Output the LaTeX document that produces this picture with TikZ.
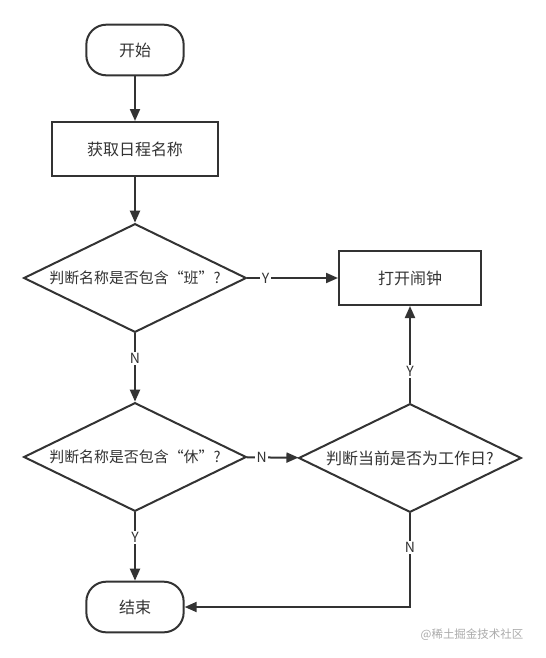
\documentclass[tikz,border=0pt]{standalone}
\usepackage{fontspec}
\setmainfont{Noto Sans CJK SC}
\usetikzlibrary{shapes.geometric,arrows.meta}
\definecolor{ink}{HTML}{333333}
\definecolor{mark}{HTML}{AAAAAA}

\begin{document}
\begin{tikzpicture}[x=0.75pt,y=-0.75pt,
  every node/.style={text=ink,font=\fontsize{12pt}{14pt}\selectfont},
  small/.style={font=\fontsize{11.2pt}{13pt}\selectfont},
  terminal/.style={draw=ink,line width=1.5pt,rounded corners=15pt,minimum width=73pt,minimum height=38pt},
  process/.style={draw=ink,line width=1.5pt,minimum height=40.5pt},
  decision/.style={draw=ink,line width=1.5pt,diamond,shape aspect=2.05,inner sep=0pt,minimum width=167pt,minimum height=81.5pt},
  flow/.style={draw=ink,line width=1.5pt,-{Triangle[length=9pt,width=7.5pt]}},
  yn/.style={fill=white,inner sep=1pt,font=\fontsize{10.5pt}{11pt}\selectfont}]
\useasboundingbox (0,0) rectangle (546,658);
\node[terminal] (start) at (135,50) {开始};
\node[process,minimum width=124.5pt] (get) at (135,149) {获取日程名称};
\node[decision,small] (ban) at (135,278) {判断名称是否包含“班”?};
\node[process,minimum width=106.5pt] (alarm) at (410,278) {打开闹钟};
\node[decision,small] (xiu) at (135,457) {判断名称是否包含“休”?};
\node[decision] (work) at (410,458) {判断当前是否为工作日?};
\node[terminal] (stop) at (135,607) {结束};
\node[text=mark,anchor=east,font=\fontsize{8.6pt}{10pt}\selectfont] (wm) at (528,635) {@稀土掘金技术社区};
\draw[flow] (start) -- (get);
\draw[flow] (get) -- (ban);
\draw[flow] (ban) -- node[yn,pos=0.2] {Y} (alarm);
\draw[flow] (ban) -- node[yn,pos=0.37] {N} (xiu);
\draw[flow] (xiu) -- node[yn,pos=0.29] {N} (work);
\draw[flow] (work) -- node[yn,pos=0.32] {Y} (alarm);
\draw[flow] (xiu) -- node[yn,pos=0.37] {Y} (stop);
\draw[flow] (work.south) |- node[yn,pos=0.18] {N} (stop.east);
\end{tikzpicture}
\end{document}
